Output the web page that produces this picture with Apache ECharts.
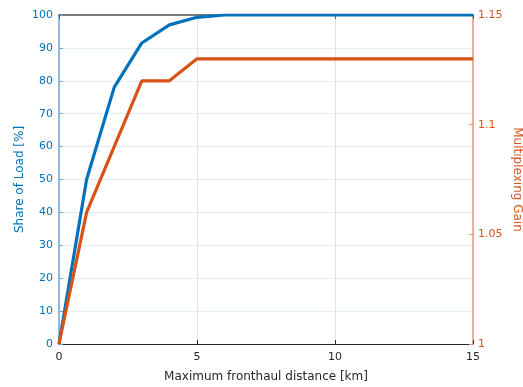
<!DOCTYPE html>
<html>
<head>
<meta charset="utf-8">
<script src="https://cdn.jsdelivr.net/npm/echarts@6/dist/echarts.min.js"></script>
<style>html,body{margin:0;padding:0;background:#fff;overflow:hidden}#c{position:absolute;left:0;top:0;width:523px;height:387px}</style>
</head>
<body>
<div id="c"></div>
<script>
var distanceKm = [0, 1, 2, 3, 4, 5, 6, 7, 8, 9, 10, 11, 12, 13, 14, 15];
var shareOfLoad = [0, 50, 78, 91.5, 97, 99.3, 100, 100, 100, 100, 100, 100, 100, 100, 100, 100];
var multiplexingGain = [1, 1.06, 1.09, 1.12, 1.12, 1.13, 1.13, 1.13, 1.13, 1.13, 1.13, 1.13, 1.13, 1.13, 1.13, 1.13];
var xTicks = [0, 5, 10, 15];
var leftTicks = [0, 10, 20, 30, 40, 50, 60, 70, 80, 90, 100];
var rightTicks = [1, 1.05, 1.1, 1.15];

var BLUE = '#0072BD', ORANGE = '#D95319';
var FONT = 'DejaVu Sans';
function pairs(xs, ys) { return xs.map(function (x, i) { return [x, ys[i]]; }); }

var chart = echarts.init(document.getElementById('c'), null, {renderer: 'canvas', width: 523, height: 387});
chart.setOption({
  animation: false,
  grid: {left: 59, right: 50, top: 15, bottom: 43, containLabel: false, outerBoundsMode: 'none'},
  xAxis: [{
    type: 'value', min: xTicks[0], max: xTicks[xTicks.length - 1], interval: 5,
    position: 'bottom',
    name: 'Maximum fronthaul distance [km]', nameLocation: 'middle', nameGap: 27,
    nameMoveOverlap: false,
    nameTextStyle: {color: '#262626', fontFamily: FONT, fontSize: 12},
    axisLine: {onZero: false, lineStyle: {color: '#262626', width: 1}},
    axisTick: {inside: true, length: 4, lineStyle: {color: '#262626'}},
    axisLabel: {color: '#262626', fontFamily: FONT, fontSize: 11, margin: 8},
    splitLine: {show: true, lineStyle: {color: '#dfe3e8', width: 1}}
  }, {
    type: 'value', min: xTicks[0], max: xTicks[xTicks.length - 1], interval: 5,
    position: 'top',
    axisLine: {onZero: false, lineStyle: {color: '#7a7a7a', width: 2}},
    axisTick: {inside: true, length: 4, lineStyle: {color: '#555'}},
    axisLabel: {show: false},
    splitLine: {show: false}
  }],
  yAxis: [{
    type: 'value', min: leftTicks[0], max: leftTicks[leftTicks.length - 1], interval: 10,
    position: 'left',
    name: 'Share of Load [%]', nameLocation: 'middle', nameGap: 33,
    nameMoveOverlap: false,
    nameTextStyle: {color: BLUE, fontFamily: FONT, fontSize: 12},
    axisLine: {show: true, onZero: false, lineStyle: {color: '#6fa6d4', width: 1.5}},
    axisTick: {show: true, inside: true, length: 4, lineStyle: {color: '#6fa6d4'}},
    axisLabel: {color: BLUE, fontFamily: FONT, fontSize: 11, margin: 6},
    splitLine: {show: true, lineStyle: {color: '#e2edf7', width: 1.2}}
  }, {
    type: 'value', min: rightTicks[0], max: rightTicks[rightTicks.length - 1], interval: 0.05,
    position: 'right',
    name: 'Multiplexing Gain', nameLocation: 'middle', nameGap: 38, nameRotate: -90,
    nameMoveOverlap: false,
    nameTextStyle: {color: ORANGE, fontFamily: FONT, fontSize: 12},
    axisLine: {show: true, onZero: false, lineStyle: {color: '#e8977a', width: 1.5}},
    axisTick: {show: true, inside: true, length: 4, lineStyle: {color: '#e8977a'}},
    axisLabel: {color: ORANGE, fontFamily: FONT, fontSize: 11, margin: 5,
      formatter: function (v) { return String(Math.round(v * 100) / 100); }},
    splitLine: {show: false}
  }],
  series: [{
    type: 'line', xAxisIndex: 0, yAxisIndex: 0,
    data: pairs(distanceKm, shareOfLoad),
    showSymbol: false, symbol: 'none',
    lineStyle: {color: BLUE, width: 3.2}, itemStyle: {color: BLUE},
    z: 3
  }, {
    type: 'line', xAxisIndex: 0, yAxisIndex: 1,
    data: pairs(distanceKm, multiplexingGain),
    showSymbol: false, symbol: 'none',
    lineStyle: {color: ORANGE, width: 3.2}, itemStyle: {color: ORANGE},
    z: 4
  }]
});
</script>
</body>
</html>
